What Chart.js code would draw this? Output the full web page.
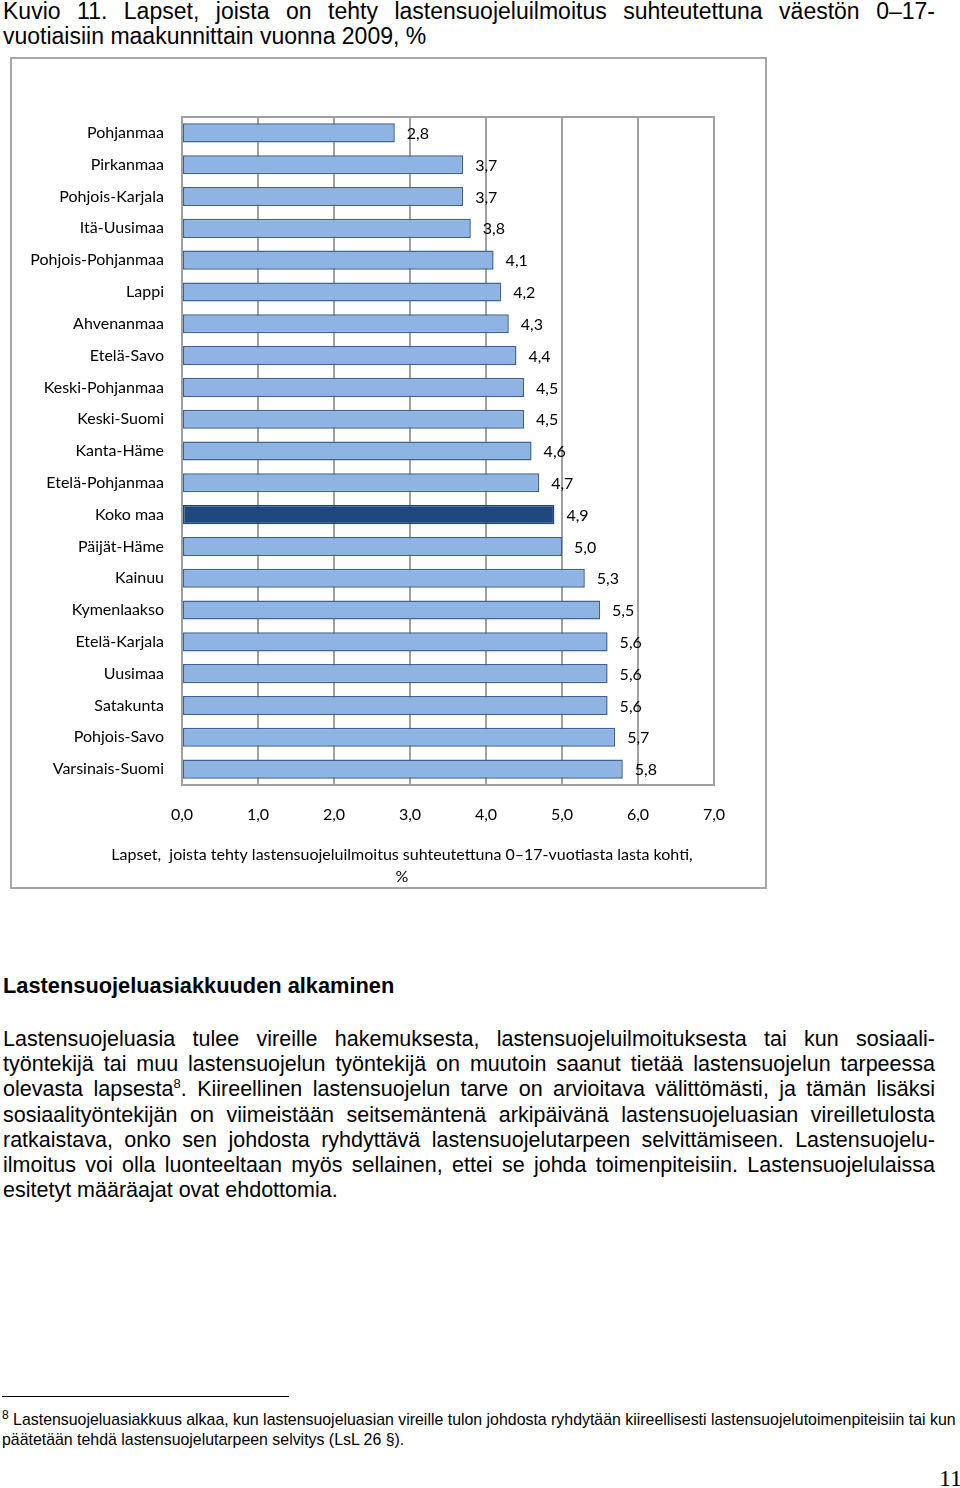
<!DOCTYPE html>
<html>
<head>
<meta charset="utf-8">
<script src="https://cdn.jsdelivr.net/npm/chart.js@4"></script>
<style>
body { margin:0; width:960px; height:1488px; position:relative; background:#fff; font-family:"Liberation Sans", Arial, sans-serif; color:#000; overflow:hidden; }
.title { position:absolute; left:3px; top:-1px; width:932px; font-size:23px; line-height:25px; }
.just { text-align:justify; text-align-last:justify; white-space:nowrap; }
#box { position:absolute; left:10px; top:57px; width:757px; height:832px; box-sizing:border-box; border:2px solid #a6a6a6; }
#wrap { position:absolute; left:0; top:57px; width:804px; height:832px; }
h2 { position:absolute; left:3px; top:973px; margin:0; font-size:21.8px; font-weight:bold; }
.body { position:absolute; left:3px; top:1027px; width:932px; font-size:21.5px; line-height:25.2px; }
sup { font-size:13px; line-height:0; }
.rule { position:absolute; left:2px; top:1396px; width:287px; height:0; border-top:1px solid #000; }
.foot { position:absolute; left:2px; top:1410px; width:958px; font-size:15.9px; line-height:20px; }
.page { position:absolute; left:939px; top:1465px; font-family:"Liberation Serif", serif; font-size:24px; }
</style>
</head>
<body>
<div class="title">
<div class="just">Kuvio 11. Lapset, joista on tehty lastensuojeluilmoitus suhteutettuna väestön 0–17-</div>
<div>vuotiaisiin maakunnittain vuonna 2009, %</div>
</div>
<div id="box"></div>
<div id="wrap"><canvas id="myChart" width="804" height="832"></canvas></div>

<h2>Lastensuojeluasiakkuuden alkaminen</h2>
<div class="body">
<div class="just">Lastensuojeluasia tulee vireille hakemuksesta, lastensuojeluilmoituksesta tai kun sosiaali-</div>
<div class="just">työntekijä tai muu lastensuojelun työntekijä on muutoin saanut tietää lastensuojelun tarpeessa</div>
<div class="just">olevasta lapsesta<sup>8</sup>. Kiireellinen lastensuojelun tarve on arvioitava välittömästi, ja tämän lisäksi</div>
<div class="just">sosiaalityöntekijän on viimeistään seitsemäntenä arkipäivänä lastensuojeluasian vireilletulosta</div>
<div class="just">ratkaistava, onko sen johdosta ryhdyttävä lastensuojelutarpeen selvittämiseen. Lastensuojelu-</div>
<div class="just">ilmoitus voi olla luonteeltaan myös sellainen, ettei se johda toimenpiteisiin. Lastensuojelulaissa</div>
<div>esitetyt määräajat ovat ehdottomia.</div>
</div>

<div class="rule"></div>
<div class="foot">
<div style="white-space:nowrap"><sup style="font-size:12px">8</sup> Lastensuojeluasiakkuus alkaa, kun lastensuojeluasian vireille tulon johdosta ryhdytään kiireellisesti lastensuojelutoimenpiteisiin tai kun</div>
<div>päätetään tehdä lastensuojelutarpeen selvitys (LsL 26 §).</div>
</div>
<div class="page">11</div>

<script>
// maakunnat, ylhäältä alas
var regions = ['Pohjanmaa', 'Pirkanmaa', 'Pohjois-Karjala', 'Itä-Uusimaa', 'Pohjois-Pohjanmaa',
  'Lappi', 'Ahvenanmaa', 'Etelä-Savo', 'Keski-Pohjanmaa', 'Keski-Suomi', 'Kanta-Häme',
  'Etelä-Pohjanmaa', 'Koko maa', 'Päijät-Häme', 'Kainuu', 'Kymenlaakso', 'Etelä-Karjala',
  'Uusimaa', 'Satakunta', 'Pohjois-Savo', 'Varsinais-Suomi']
var percents = [2.8, 3.7, 3.7, 3.8, 4.1, 4.2, 4.3, 4.4, 4.5, 4.5, 4.6, 4.7, 4.9, 5.0, 5.3, 5.5, 5.6, 5.6, 5.6, 5.7, 5.8]
var xTicks = [0, 1, 2, 3, 4, 5, 6, 7]
var axisTitle = ['Lapset,  joista tehty lastensuojeluilmoitus suhteutettuna 0–17-vuotiasta lasta kohti,', '%']

var chartFont = 'Lato'
var fmt = v => v.toFixed(1).replace('.', ',')

var fills = regions.map(r => r == 'Koko maa' ? '#1f497d' : '#8db4e2')
var borders = regions.map(r => r == 'Koko maa' ? '#1f497d' : '#3f6293')

// arvot pylväiden perään
var valueLabels = {
  id: 'valueLabels',
  afterDatasetsDraw(chart) {
    var ctx = chart.ctx
    var meta = chart.getDatasetMeta(0)
    ctx.save()
    ctx.font = '16px ' + chartFont
    ctx.fillStyle = '#000'
    ctx.textAlign = 'left'
    ctx.textBaseline = 'middle'
    meta.data.forEach((bar, i) => {
      ctx.fillText(fmt(percents[i]), bar.x + 12, bar.y + 1)
    })
    ctx.restore()
  }
}

var ctx = document.getElementById('myChart').getContext('2d')
var chartOne = new Chart(ctx, {
  type: 'bar',
  data: {
    labels: regions,
    datasets: [{
      data: percents,
      backgroundColor: fills,
      borderColor: borders,
      borderWidth: 1.5,
      borderSkipped: false,
      barPercentage: 0.6,
      categoryPercentage: 1
    }]
  },
  options: {
    indexAxis: 'y',
    responsive: false,
    animation: false,
    layout: { padding: { top: 60, right: 0, left: 0, bottom: 0 } },
    plugins: {
      legend: { display: false },
      tooltip: { enabled: false },
      title: {
        display: true,
        position: 'bottom',
        text: axisTitle,
        color: '#000',
        font: { family: chartFont, size: 16, weight: 'normal', lineHeight: '22px' },
        padding: { top: 0, bottom: 1 }
      }
    },
    scales: {
      x: {
        min: 0, max: 7,
        afterBuildTicks: s => { s.ticks = xTicks.map(v => ({ value: v })) },
        afterFit: s => { s.height = 59 },
        ticks: { color: '#000', font: { family: chartFont, size: 16 }, padding: 20, callback: v => fmt(v) },
        grid: { color: '#a0a0a0', lineWidth: 2, drawTicks: false },
        border: { color: '#a0a0a0', width: 2 }
      },
      y: {
        afterFit: s => { s.width = 182 },
        ticks: { color: '#000', font: { family: chartFont, size: 16 }, padding: 18 },
        grid: { display: false, drawTicks: false },
        border: { color: '#a0a0a0', width: 2 }
      },
      // tyhjä tila oikealla, jotta akselin otsikko osuu oikeaan kohtaan
      yRight: {
        type: 'category',
        position: 'right',
        afterFit: s => { s.width = 90 },
        ticks: { display: false },
        grid: { display: false, drawTicks: false },
        border: { display: false }
      }
    }
  },
  plugins: [valueLabels, {
    id: 'frame',
    beforeDatasetsDraw(chart) {
      var a = chart.chartArea, c = chart.ctx
      c.save()
      c.strokeStyle = '#a0a0a0'
      c.lineWidth = 2
      c.beginPath()
      c.moveTo(a.left, a.top); c.lineTo(a.right, a.top); c.lineTo(a.right, a.bottom)
      c.stroke()
      c.restore()
    }
  }]
})
</script>
</body>
</html>
